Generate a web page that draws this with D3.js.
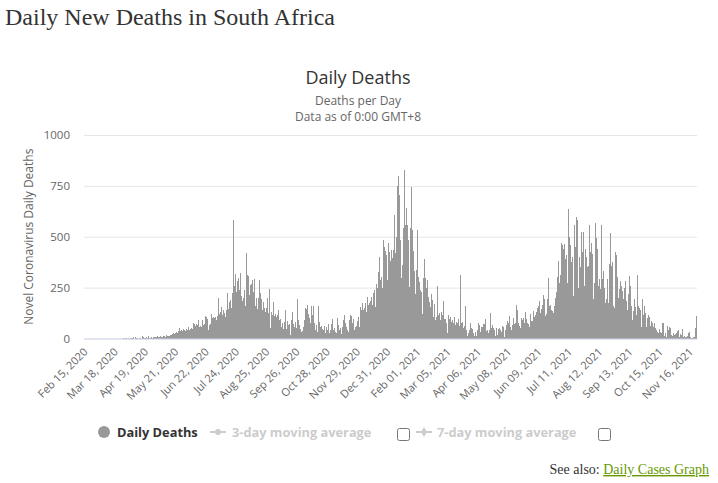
<!DOCTYPE html>
<html><head><meta charset="utf-8">
<script src="https://cdn.jsdelivr.net/npm/d3@7"></script>
<style>
body{margin:0;background:#fff;}
svg{display:block;}
</style></head>
<body>
<svg id="chart" width="718" height="483"></svg>
<script>
const pageTitle = "Daily New Deaths in South Africa";
const chartTitle = "Daily Deaths";
const subtitles = ["Deaths per Day", "Data as of 0:00 GMT+8"];
const yAxisTitle = "Novel Coronavirus Daily Deaths";
const yTicks = [0, 250, 500, 750, 1000];
const startDate = "2020-02-15";
const tickEvery = 32;
const tickLabels = ["Feb 15, 2020","Mar 18, 2020","Apr 19, 2020","May 21, 2020","Jun 22, 2020","Jul 24, 2020","Aug 25, 2020","Sep 26, 2020","Oct 28, 2020","Nov 29, 2020","Dec 31, 2020","Feb 01, 2021","Mar 05, 2021","Apr 06, 2021","May 08, 2021","Jun 09, 2021","Jul 11, 2021","Aug 12, 2021","Sep 13, 2021","Oct 15, 2021","Nov 16, 2021"];
const seriesNames = ["Daily Deaths", "3-day moving average", "7-day moving average"];

// Daily deaths, one value per day from Feb 15, 2020
const deaths = [
0,0,0,0,0,0,0,0,0,0,0,0,0,0,0,0,0,0,0,0,0,0,0,0,0,0,0,0,0,0,0,0,0,0,0,0,0,0,0,0,0,
1,0,1,2,0,1,2,0,1,1,2,5,0,7,1,2,0,3,4,0,12,6,2,
4,2,5,3,10,4,2,5,3,6,8,9,5,10,8,6,11,9,7,12,10,13,8,15,12,14,10,18,16,22,25,20,
28,30,26,35,50,38,33,40,36,45,42,38,47,44,55,40,48,52,45,78,70,62,72,65,83,92,58,60,55,92,67,70,
112,105,95,42,67,70,122,102,108,100,104,92,90,110,197,120,128,155,117,142,125,105,140,222,147,180,188,150,222,180,580,256,
315,228,281,298,240,320,210,182,199,240,158,421,310,306,215,265,217,270,287,230,
292,158,200,145,200,287,225,195,142,178,150,128,
150,
197,125,117,242,50,128,117,178,112,122,105,117,138,92,95,58,78,
48,80,142,62,48,88,67,70,17,92,128,70,58,83,50,192,92,67,45,33,
38,42,58,92,150,145,167,122,100,75,162,117,160,75,42,67,33,162,83,55,
25,60,48,42,62,25,58,42,72,25,42,70,95,42,53,33,25,100,42,67,42,50,22,58,92,117,75,58,42,33,92,117,112,78,95,42,
57,45,60,88,107,57,156,140,172,139,150,172,130,202,164,172,185,205,164,164,225,240,156,270,246,328,402,287,303,246,484,451,431,410,287,
470,426,380,434,385,397,434,607,418,500,749,798,705,484,295,361,541,828,557,639,557,484,303,254,542,743,533,430,
330,221,336,533,303,279,238,230,120,295,393,295,250,207,287,205,180,156,221,189,107,169,90,107,257,115,123,90,131,115,185,74,98,94,74,25,115,98,107,82,90,77,107,66,82,74,98,60,
312,75,42,83,50,60,162,42,12,25,42,75,50,45,25,12,33,12,42,75,58,67,33,58,
55,70,72,95,37,42,25,42,125,50,67,50,42,12,50,42,17,47,50,40,
33,63,55,8,42,65,88,75,112,58,42,67,58,100,72,75,165,142,75,60,
50,100,92,103,75,128,95,78,72,55,122,50,85,88,133,105,117,130,150,162,
183,125,145,165,212,192,112,120,195,142,297,158,167,142,133,125,158,200,228,300,383,275,312,467,
458,442,462,392,200,408,275,637,500,
458,375,400,208,558,450,597,583,250,400,350,525,425,525,520,258,442,400,
350,358,558,425,467,417,192,275,567,492,442,258,292,242,392,558,292,333,250,
175,192,292,175,367,517,358,378,158,150,425,408,300,200,100,242,283,260,
233,192,250,283,183,142,217,305,258,158,92,133,192,155,117,108,312,158,150,
142,58,192,117,158,125,58,100,117,105,62,87,75,58,28,78,50,40,
33,25,45,33,25,78,75,12,28,8,62,42,58,50,17,8,12,25,15,
20,28,37,42,8,22,17,45,8,12,5,8,12,5,25,33,8,3,4,
5,5,50,112
];

const start = d3.timeParse("%Y-%m-%d")(startDate);
const dates = deaths.map((d, i) => d3.timeDay.offset(start, i));
const data = deaths.map((v, i) => ({i, date: dates[i], v}));

const svg = d3.select("#chart");
const sans = "'Open Sans', 'DejaVu Sans', sans-serif";
const serif = "'Liberation Serif', 'Times New Roman', serif";

const plot = {left: 84, right: 697, top: 135, bottom: 338.5};

const x = d3.scaleBand().domain(d3.range(deaths.length)).range([plot.left, plot.right]).padding(0);
const y = d3.scaleLinear().domain([0, 1000]).range([plot.bottom, plot.top]);

// page title
svg.append("text").attr("x", 5).attr("y", 25)
  .attr("font-family", serif).attr("font-size", 24).attr("fill", "#333")
  .text(pageTitle);

// chart title + subtitles
svg.append("text").attr("x", 358).attr("y", 84).attr("text-anchor", "middle")
  .attr("font-family", sans).attr("font-size", 18).attr("fill", "#333").text(chartTitle);
subtitles.forEach((s, k) => {
  svg.append("text").attr("x", 358).attr("y", 105 + k * 15.5).attr("text-anchor", "middle")
    .attr("font-family", sans).attr("font-size", 12).attr("fill", "#666").text(s);
});

// y axis with grid
const yAxis = d3.axisLeft(y).tickValues(yTicks).tickFormat(d3.format("d"))
  .tickSize(-(plot.right - plot.left)).tickPadding(14);
const gy = svg.append("g").attr("transform", `translate(${plot.left},0)`).call(yAxis);
gy.select(".domain").remove();
gy.selectAll(".tick line").attr("stroke", "#e6e6e6");
gy.selectAll(".tick text").attr("font-family", sans).attr("font-size", 11.5).attr("fill", "#666");

svg.append("text")
  .attr("transform", `translate(33,${(plot.top + plot.bottom) / 2}) rotate(-90)`)
  .attr("text-anchor", "middle").attr("font-family", sans).attr("font-size", 12).attr("fill", "#666")
  .text(yAxisTitle);

// bars (pixel-snapped like the original renderer)
svg.append("g").attr("shape-rendering", "crispEdges").selectAll("rect").data(data).join("rect")
  .attr("x", d => Math.round(x(d.i)))
  .attr("width", d => Math.max(1, Math.round(x(d.i) + x.bandwidth()) - Math.round(x(d.i))))
  .attr("y", d => Math.round(y(d.v)))
  .attr("height", d => Math.max(0, Math.round(y(0)) - Math.round(y(d.v))))
  .attr("fill", "#999");

// x axis
const tickIdx = tickLabels.map((t, k) => k * tickEvery);
const xAxis = d3.axisBottom(x).tickValues(tickIdx).tickFormat(i => tickLabels[i / tickEvery]).tickSize(0);
const gx = svg.append("g").attr("transform", `translate(0,${plot.bottom})`).call(xAxis);
gx.select(".domain").attr("stroke", "#ccd6eb");
gx.selectAll(".tick text")
  .attr("font-family", sans).attr("font-size", 11).attr("fill", "#666")
  .attr("text-anchor", "end")
  .attr("dy", null).attr("y", 0)
  .attr("transform", "translate(4,14) rotate(-45)");

// legend
const ly = 432;
const legendFont = 12.8;
svg.append("circle").attr("cx", 104).attr("cy", ly).attr("r", 6).attr("fill", "#999");
svg.append("text").attr("x", 117).attr("y", ly + 4.5).attr("font-family", sans).attr("font-size", legendFont)
  .attr("font-weight", "bold").attr("fill", "#333").text(seriesNames[0]);

function lineSymbol(x0, shape) {
  svg.append("line").attr("x1", x0).attr("x2", x0 + 16).attr("y1", ly).attr("y2", ly)
    .attr("stroke", "#ccc").attr("stroke-width", 2);
  svg.append("path").attr("transform", `translate(${x0 + 8},${ly})`)
    .attr("d", d3.symbol(shape, 28)()).attr("fill", "#ccc");
}
function checkbox(x0) {
  svg.append("rect").attr("x", x0 + 0.5).attr("y", ly - 3.5).attr("width", 12).attr("height", 12)
    .attr("rx", 2).attr("fill", "#fff").attr("stroke", "#777");
}
lineSymbol(210, d3.symbolCircle);
svg.append("text").attr("x", 232).attr("y", ly + 4.5).attr("font-family", sans).attr("font-size", legendFont)
  .attr("font-weight", "bold").attr("fill", "#ccc").text(seriesNames[1]);
checkbox(397);
lineSymbol(416, d3.symbolDiamond);
svg.append("text").attr("x", 437).attr("y", ly + 4.5).attr("font-family", sans).attr("font-size", legendFont)
  .attr("font-weight", "bold").attr("fill", "#ccc").text(seriesNames[2]);
checkbox(598);

// see also
const see = svg.append("text").attr("x", 709).attr("y", 474).attr("text-anchor", "end")
  .attr("font-family", serif).attr("font-size", 14).attr("fill", "#333");
see.append("tspan").text("See also: ");
see.append("tspan").attr("fill", "#669900").attr("text-decoration", "underline").text("Daily Cases Graph");
</script>
</body></html>
